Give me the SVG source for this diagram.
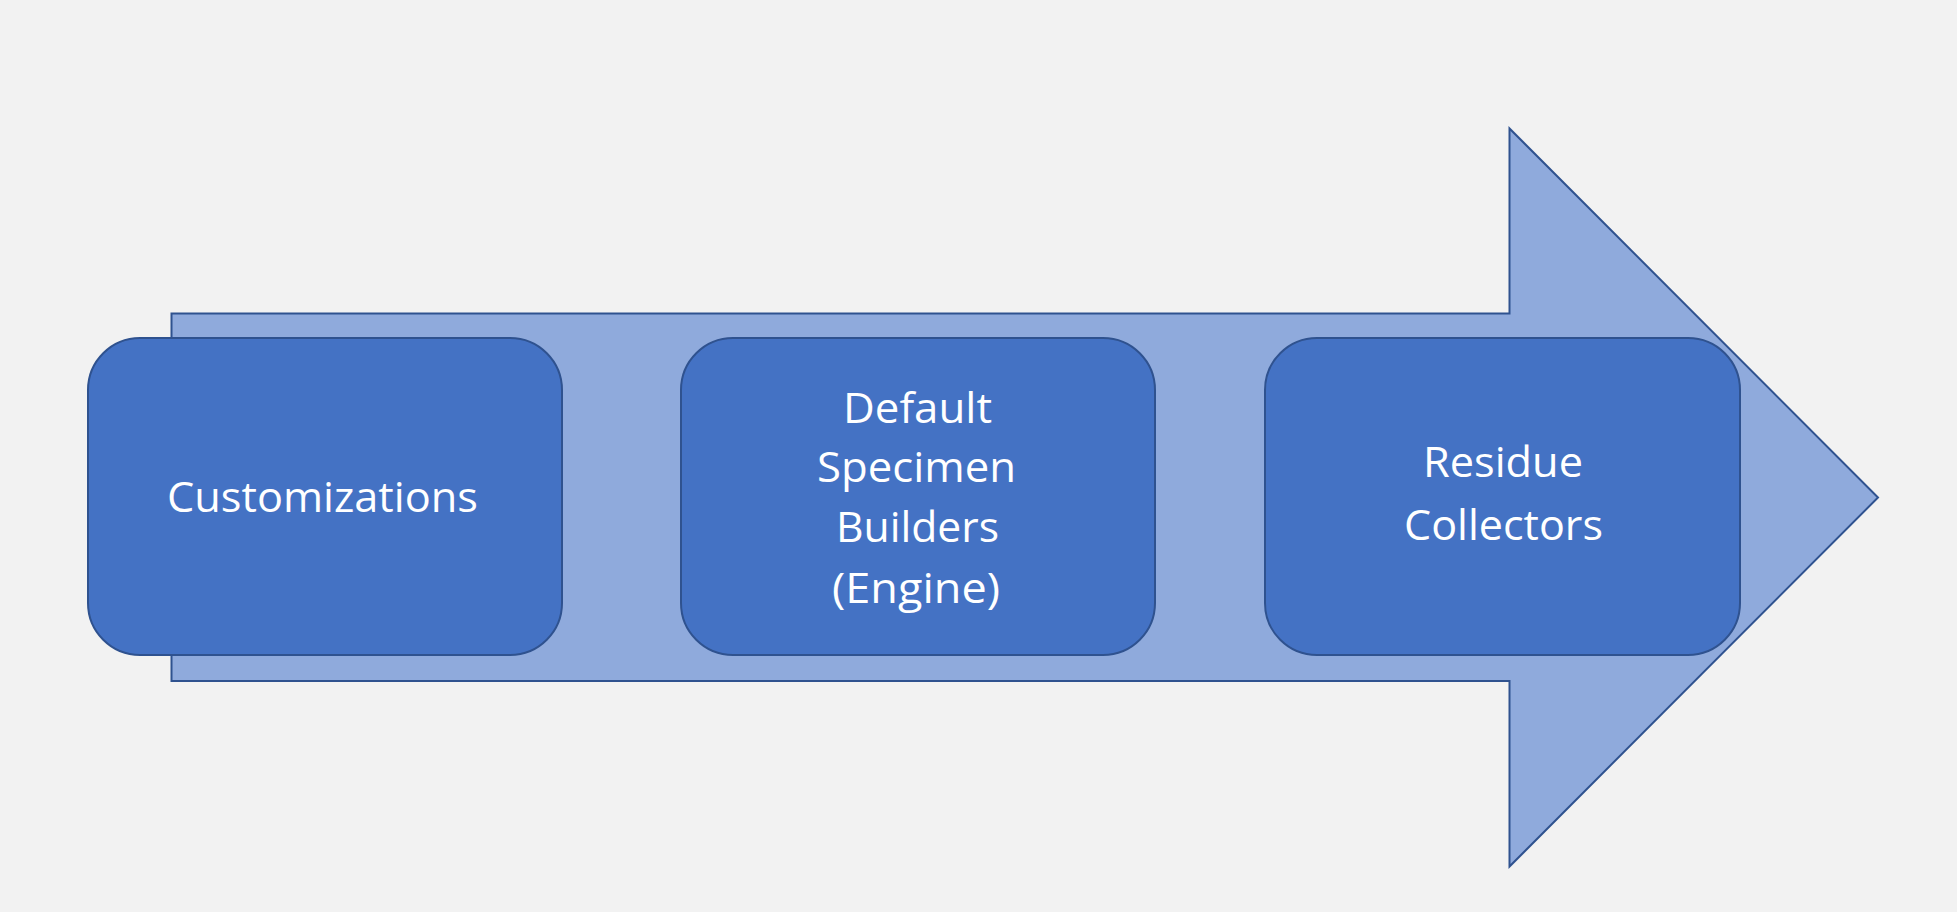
<svg xmlns="http://www.w3.org/2000/svg" width="1957" height="912" viewBox="0 0 1957 912">
<style>
.box{fill:#4472C4;stroke:#2F528F;stroke-width:2}
.lbl{font-family:"Open Sans","Liberation Sans",sans-serif;font-size:42px;fill:#FFFFFF;text-anchor:middle}
</style>
<rect width="1957" height="912" fill="#F2F2F2"/>
<g id="connectors">
<path d="M171.5,313.5 L1509.5,313.5 L1509.5,128.5 L1878,497.5 L1509.5,866.5 L1509.5,681 L171.5,681 Z" fill="#8FAADC" stroke="#2F528F" stroke-width="2" stroke-linejoin="miter"/>
</g>
<g id="customizations">
<rect class="box" x="88" y="338" width="474" height="317" rx="52" ry="52"/>
<text class="lbl" x="322.5" y="511.5" textLength="311" lengthAdjust="spacingAndGlyphs">Customizations</text>
</g>
<g id="default-specimen-builders">
<rect class="box" x="681" y="338" width="474" height="317" rx="52" ry="52"/>
<text class="lbl" x="917.5" y="422.5" textLength="149" lengthAdjust="spacingAndGlyphs">Default</text>
<text class="lbl" x="916.5" y="482" textLength="199" lengthAdjust="spacingAndGlyphs">Specimen</text>
<text class="lbl" x="917.5" y="541.5" textLength="163" lengthAdjust="spacingAndGlyphs">Builders</text>
<text class="lbl" x="916" y="603" textLength="168" lengthAdjust="spacingAndGlyphs">(Engine)</text>
</g>
<g id="residue-collectors">
<rect class="box" x="1265" y="338" width="475" height="317" rx="52" ry="52"/>
<text class="lbl" x="1503" y="476.5" textLength="160" lengthAdjust="spacingAndGlyphs">Residue</text>
<text class="lbl" x="1503.5" y="540" textLength="199" lengthAdjust="spacingAndGlyphs">Collectors</text>
</g>
</svg>
